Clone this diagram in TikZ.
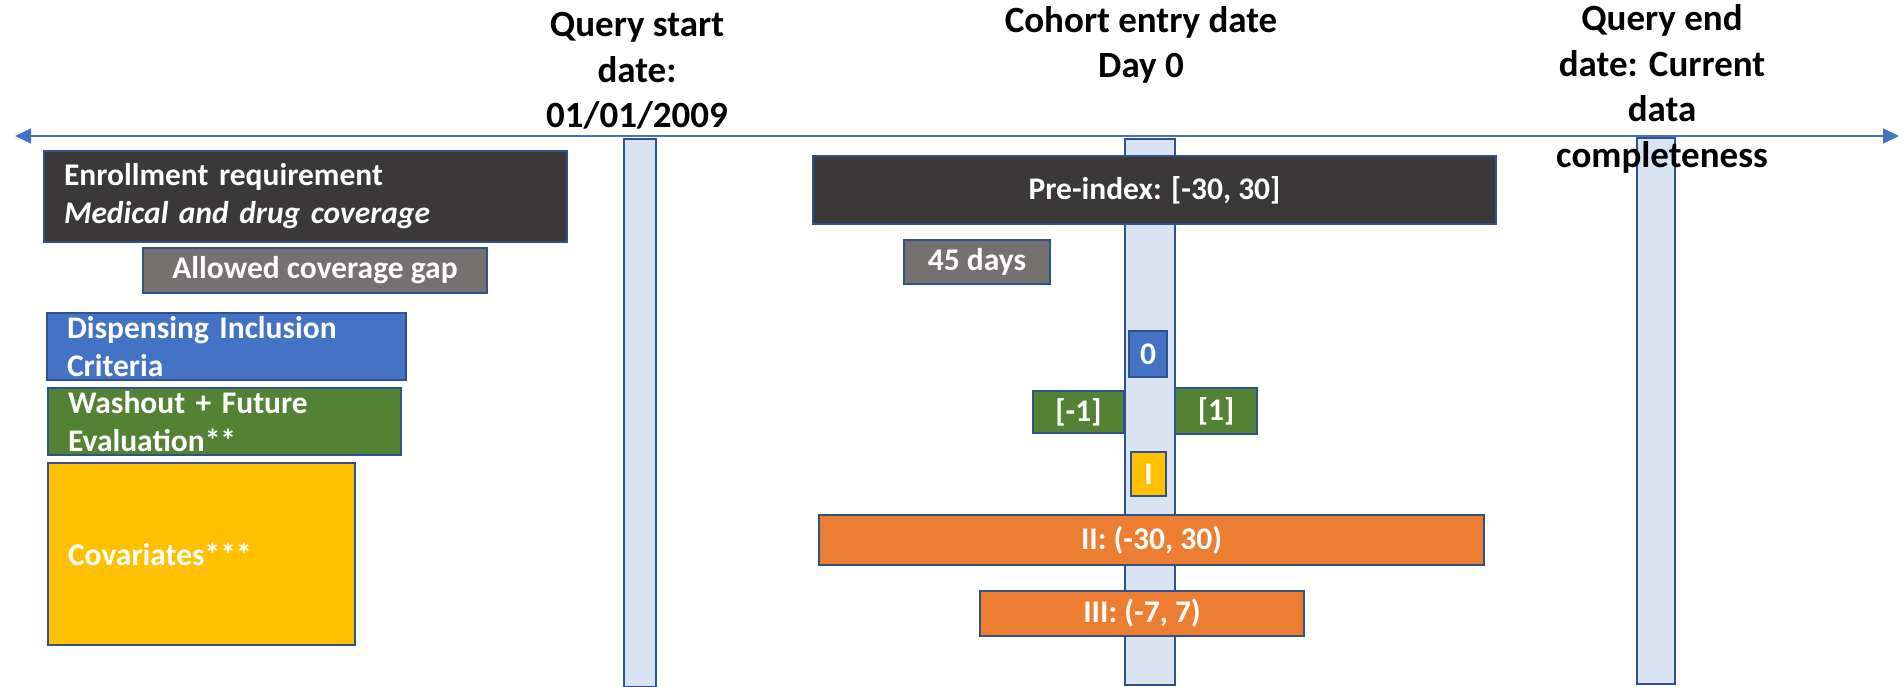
\documentclass[tikz,border=0pt]{standalone}
\usepackage{fontspec}
\setmainfont{Carlito}
\usetikzlibrary{arrows.meta}
\definecolor{outl}{HTML}{2F528F}
\definecolor{axisblue}{HTML}{4472C4}
\definecolor{barfill}{HTML}{DAE3F3}
\definecolor{darkbox}{HTML}{3A3838}
\definecolor{graybox}{HTML}{767171}
\definecolor{bluebox}{HTML}{4472C4}
\definecolor{greenbox}{HTML}{548235}
\definecolor{yellowbox}{HTML}{FFC000}
\definecolor{orangebox}{HTML}{ED7D31}
\newcommand\boxfont{\bfseries\fontsize{31.5}{38}\selectfont}
\newcommand\titlefont{\bfseries\fontsize{37}{45.5}\selectfont}
\begin{document}
\begin{tikzpicture}[x=1pt,y=-1pt,
  bar/.style={draw=outl, fill=barfill, line width=2pt, inner sep=0pt, anchor=north west},
  box/.style={draw=outl, line width=2pt, inner sep=0pt, text=white, font=\boxfont, anchor=north west},
  leftbox/.style={box, align=left, inner xsep=20pt},
  title/.style={font=\titlefont, align=center, inner sep=0pt, text=black}]
\useasboundingbox (0,0) rectangle (1904,687);
% axis
\coordinate (axL) at (15,136);
\coordinate (axR) at (1899,136);
\draw[axisblue, line width=1.5pt, {Triangle[length=16pt,width=15pt]}-{Triangle[length=16pt,width=15pt]}] (axL) -- (axR);
% bars
\node[bar, minimum width=32pt, minimum height=548pt] (qsbar) at (623,138) {};
\node[bar, minimum width=50pt, minimum height=546pt] (cebar) at (1124,138) {};
\node[bar, minimum width=38pt, minimum height=546pt] (qebar) at (1636,137) {};
% left boxes
\node[leftbox, fill=darkbox, minimum width=523pt, minimum height=91pt, text width=483pt] (enr) at (43,150) {Enrollment requirement\\\textit{Medical and drug coverage}};
\node[box, fill=graybox, minimum width=344pt, minimum height=45pt] (gap) at (142,247) {Allowed coverage gap};
\node[leftbox, fill=bluebox, minimum width=359pt, minimum height=67pt, text width=319pt] (disp) at (46,312) {Dispensing Inclusion\\Criteria};
\node[leftbox, fill=greenbox, minimum width=353pt, minimum height=67pt, text width=313pt] (wash) at (47,387) {Washout + Future\\Evaluation**};
\node[leftbox, fill=yellowbox, minimum width=307pt, minimum height=182pt, text width=267pt] (cov) at (47,462) {Covariates***};
% centre boxes
\node[box, fill=darkbox, minimum width=683pt, minimum height=68pt] (pre) at (812,155) {Pre-index: [-30, 30]};
\node[box, fill=graybox, minimum width=146pt, minimum height=44pt] (d45) at (903,239) {45 days};
\node[box, fill=bluebox, minimum width=38pt, minimum height=46pt] (zero) at (1128,330) {0};
\node[box, fill=greenbox, minimum width=91pt, minimum height=42pt] (m1) at (1032,390) {[-1]};
\node[box, fill=greenbox, minimum width=82pt, minimum height=46pt] (p1) at (1174,387) {[1]};
\node[box, fill=yellowbox, minimum width=35pt, minimum height=44pt] (one) at (1130,451) {I};
\node[box, fill=orangebox, minimum width=665pt, minimum height=50pt] (two) at (818,514) {II: (-30, 30)};
\node[box, fill=orangebox, minimum width=324pt, minimum height=45pt] (three) at (979,590) {III: (-7, 7)};
% titles
\node[title] (qstart) at (637,71) {Query start\\date:\\01/01/2009};
\node[title] (centry) at (1141,45) {Cohort entry date\\Day 0};
\node[title] (qend) at (1662,89) {Query end\\date: Current\\data\\completeness};
\end{tikzpicture}
\end{document}
